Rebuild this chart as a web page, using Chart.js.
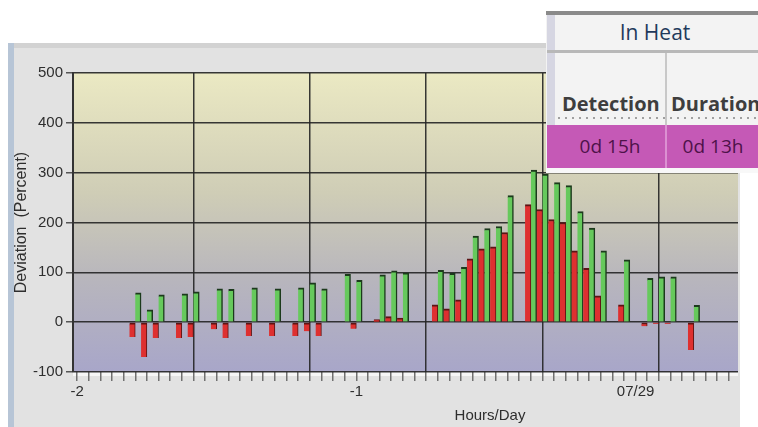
<!DOCTYPE html>
<html>
<head>
<meta charset="utf-8">
<script src="https://cdn.jsdelivr.net/npm/chart.js@4"></script>
<style>
  html, body { margin: 0; padding: 0; background: #fff; }
  body { width: 758px; height: 427px; overflow: hidden; position: relative; }
  #wrap { position: absolute; left: 0; top: 0; width: 758px; height: 427px; }
  #heat { position: absolute; left: 546px; top: 11px; width: 230px; height: 162px; background: #f3f3f3;
          font-family: "Open Sans", sans-serif; overflow: hidden; }
  #heat .top { position: absolute; left: 0; top: 0; width: 100%; height: 4px; background: #8a8a8a; }
  #heat .side { position: absolute; left: 1px; top: 4px; width: 8px; height: 153px; background: #d6d6e2; }
  #heat .hdr { position: absolute; left: 9px; top: 4px; width: 200px; height: 35px; line-height: 35px;
               text-align: center; font-size: 21px; color: #1f3a5c; }
  #heat .hline { position: absolute; left: 1px; top: 39px; width: 100%; height: 3px; background: #b8b8b8; }
  #heat .vline { position: absolute; left: 119px; top: 42px; width: 2px; height: 115px; background: #c8c8c8; }
  #heat .lbl { position: absolute; top: 79px; font-size: 20px; font-weight: bold; color: #3e3e3e; white-space: nowrap; }
  #heat .dots { position: absolute; left: 12px; top: 106px; width: 100%; height: 2px;
                background: repeating-linear-gradient(90deg, #a0a0a0 0 2px, transparent 2px 7px); }
  #heat .mag { position: absolute; left: 1px; top: 114px; width: 100%; height: 43px; background: #c559b6; }
  #heat .mline { position: absolute; left: 119px; top: 114px; width: 2px; height: 43px; background: #dc90d2; }
  #heat .val { position: absolute; top: 114px; height: 43px; line-height: 43px; font-size: 19px; color: #4e1249;
               text-align: center; }
  #heat .bot { position: absolute; left: 0; top: 157px; width: 100%; height: 5px; background: #f8f8f8; }
</style>
</head>
<body>
<div id="wrap"><canvas id="chart" width="758" height="427"></canvas></div>
<div id="heat">
  <div class="top"></div>
  <div class="side"></div>
  <div class="hdr">In Heat</div>
  <div class="hline"></div>
  <div class="vline"></div>
  <div class="lbl" style="left:16px">Detection</div>
  <div class="lbl" style="left:125px">Duration</div>
  <div class="dots"></div>
  <div class="mag"></div>
  <div class="mline"></div>
  <div class="val" style="left:9px;width:110px">0d 15h</div>
  <div class="val" style="left:121px;width:92px">0d 13h</div>
  <div class="bot"></div>
</div>
<script>
// hour offsets relative to 07/29 00:00
const hours = [-43, -42, -41, -39, -38, -36, -35, -33, -31, -29, -28, -27, -25, -24,
  -22, -21, -20, -17, -16, -15, -14, -13, -12, -11, -9, -8, -7, -6, -5, -4, -3, -1, 1, 2, 3, 5];
const redValues = [-30, -70, -32, -32, -30, -14, -32, -28, -28, -28, -18, -28, null, -13,
  5, 11, 8, 35, 27, 45, 127, 147, 151, 180, 236, 226, 206, 200, 143, 108, 53, 35, -8, -3, -3, -56];
const greenValues = [59, 25, 55, 57, 61, 67, 66, 69, 67, 69, 79, 67, 96, 84,
  95, 103, 99, 104, 98, 110, 173, 188, 192, 254, 305, 297, 280, 274, 222, 189, 143, 125, 88, 91, 91, 34];

const xLabelHours = [-48, -24, 0];
const xLabelText = ['-2', '-1', '07/29'];
const xGridHours = [-38, -28, -18, -8, 2];
const yMin = -100, yMax = 500, yStep = 100;

const toPoints = (vals) => hours.map((h, i) => ({ x: h, y: vals[i] }));

const panelBg = {
  id: 'panelBg',
  beforeDraw(chart) {
    const ctx = chart.ctx;
    const a = chart.chartArea;
    ctx.save();
    ctx.fillStyle = '#ffffff';
    ctx.fillRect(0, 0, chart.width, chart.height);
    // panel
    ctx.fillStyle = '#e2e2e2';
    ctx.fillRect(8, 43, 732, 384);
    ctx.fillStyle = '#d2d2d2';
    ctx.fillRect(8, 43, 732, 5);
    ctx.fillStyle = '#b7c5d6';
    ctx.fillRect(8, 43, 6, 384);
    // plot gradient
    const g = ctx.createLinearGradient(0, a.top, 0, a.bottom);
    g.addColorStop(0, '#ebe9c3');
    g.addColorStop(0.4, '#cfcdb6');
    g.addColorStop(0.7, '#b7b5bd');
    g.addColorStop(1, '#a8a6c9');
    ctx.fillStyle = g;
    ctx.fillRect(a.left, a.top, a.right - a.left, a.bottom - a.top);
    ctx.fillStyle = '#f6f6f6';
    ctx.fillRect(a.left, a.bottom, a.right - a.left, 4);
    ctx.restore();
  },
  afterDraw(chart) {
    const ctx = chart.ctx;
    ctx.save();
    ctx.fillStyle = '#2e2e2e';
    ctx.font = '15px "Liberation Sans", Arial, sans-serif';
    ctx.textAlign = 'center';
    ctx.textBaseline = 'middle';
    ctx.fillText('Hours/Day', 490, 416);
    ctx.restore();
  }
};

new Chart(document.getElementById('chart'), {
  type: 'bar',
  data: {
    datasets: [
      {
        label: 'Low',
        data: toPoints(redValues),
        backgroundColor: '#de3030',
        borderColor: '#5c1414',
        borderWidth: { top: 2, right: 1, bottom: 0, left: 0 },
        borderSkipped: false,
        categoryPercentage: 1,
        barPercentage: 1
      },
      {
        label: 'High',
        data: toPoints(greenValues),
        backgroundColor: '#66c95c',
        borderColor: '#1c3a1c',
        borderWidth: { top: 2, right: 1.5, bottom: 0, left: 0 },
        borderSkipped: false,
        categoryPercentage: 1,
        barPercentage: 1
      }
    ]
  },
  options: {
    responsive: false,
    animation: false,
    layout: { padding: { left: 8, right: 20, top: 73, bottom: 0 } },
    plugins: {
      legend: { display: false },
      tooltip: { enabled: false }
    },
    scales: {
      x: {
        type: 'linear',
        offset: false,
        min: -48.35,
        max: 8.8,
        afterBuildTicks: (scale) => {
          const t = [];
          for (let h = -48; h <= 8; h++) t.push({ value: h });
          scale.ticks = t;
        },
        afterFit: (scale) => { scale.height = 55; },
        ticks: {
          autoSkip: false,
          maxRotation: 0,
          padding: 2,
          color: '#2e2e2e',
          font: { family: '"Liberation Sans", Arial, sans-serif', size: 15 },
          callback: (v) => {
            const i = xLabelHours.indexOf(v);
            return i >= 0 ? xLabelText[i] : '';
          }
        },
        grid: {
          offset: false,
          color: (c) => (c.tick && xGridHours.includes(c.tick.value)) ? 'rgba(35,35,35,0.9)' : 'rgba(0,0,0,0)',
          tickColor: '#707070',
          lineWidth: 1.5,
          tickLength: 9
        },
        border: { display: false }
      },
      y: {
        min: yMin,
        max: yMax,
        afterFit: (scale) => { scale.width = 65; },
        ticks: {
          stepSize: yStep,
          padding: 3,
          color: '#2e2e2e',
          font: { family: '"Liberation Sans", Arial, sans-serif', size: 15 }
        },
        grid: {
          color: 'rgba(35,35,35,0.9)',
          tickColor: '#555',
          lineWidth: 1.5,
          tickLength: 7
        },
        border: { display: true, color: '#333', width: 2 },
        title: {
          display: true,
          text: 'Deviation  (Percent)',
          color: '#2e2e2e',
          font: { family: '"Liberation Sans", Arial, sans-serif', size: 16 },
          padding: { top: 4, bottom: 0 }
        }
      }
    }
  },
  plugins: [panelBg]
});
</script>
</body>
</html>
